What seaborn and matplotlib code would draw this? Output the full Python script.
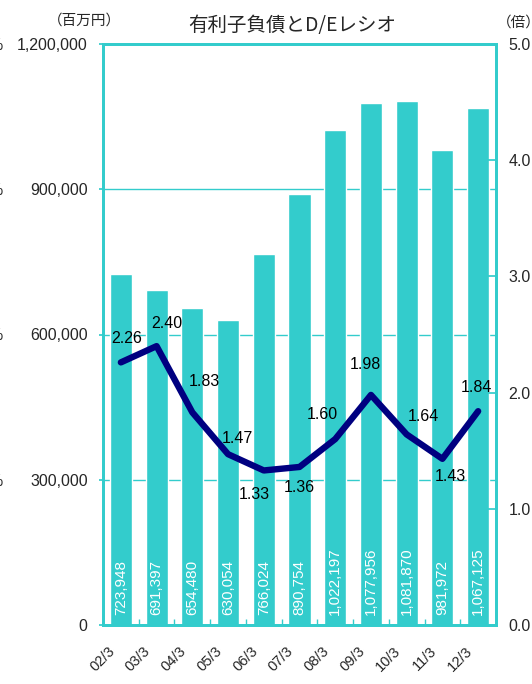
import matplotlib.pyplot as plt
import numpy as np
import pandas as pd
import seaborn as sns

periods = ["02/3", "03/3", "04/3", "05/3", "06/3", "07/3", "08/3", "09/3", "10/3", "11/3", "12/3"]
debt = [723948, 691397, 654480, 630054, 766024, 890754, 1022197, 1077956, 1081870, 981972, 1067125]
de_ratio = [2.26, 2.40, 1.83, 1.47, 1.33, 1.36, 1.60, 1.98, 1.64, 1.43, 1.84]
left_ticks = [0, 300000, 600000, 900000, 1200000]
right_ticks = [0.0, 1.0, 2.0, 3.0, 4.0, 5.0]

# label offsets for the ratio labels (points, relative to the point)
label_offsets = [(4, 17), (7, 16), (9, 22), (7, 11), (-7, -17), (0, -15),
                 (-9, 18), (-4, 22), (12, 13), (6, -13), (-1, 17)]

CYAN = "#33CCCC"
NAVY = "#000080"

sns.set_theme(style="white")
plt.rcParams["font.family"] = ["Liberation Sans", "Noto Sans CJK JP", "DejaVu Sans"]

df = pd.DataFrame({"period": periods, "debt": debt, "de": de_ratio})

fig = plt.figure(figsize=(5.32, 6.84), dpi=100)
ax = fig.add_axes([103 / 532, 59 / 684, 393 / 532, 581 / 684])

sns.barplot(data=df, x="period", y="debt", color=CYAN, saturation=1, width=0.62, ax=ax, zorder=2)
ax.set_ylim(0, 1200000)
ax.set_yticks(left_ticks)
ax.set_yticklabels([f"{v:,}" for v in left_ticks], fontsize=11.5)
ax.yaxis.grid(True, color=CYAN, linewidth=1)
ax.set_axisbelow(True)
ax.set_xlabel("")
ax.set_ylabel("")

for i, v in enumerate(debt):
    ax.annotate(f"{v:,}", xy=(i, 0), xytext=(0, 7), textcoords="offset points",
                rotation=90, ha="center", va="bottom", color="white", fontsize=11, zorder=3)

ax2 = ax.twinx()
sns.pointplot(data=df, x="period", y="de", color=NAVY, markers="", linewidth=4.6,
              errorbar=None, ax=ax2)
for ln in ax2.lines:
    ln.set_solid_joinstyle("round")
    ln.set_solid_capstyle("round")
ax2.set_ylim(0, 5)
ax2.set_yticks(right_ticks)
ax2.set_yticklabels([f"{v:.1f}" for v in right_ticks], fontsize=11.5)
ax2.set_ylabel("")
ax2.set_xlabel("")

for i, (v, (dx, dy)) in enumerate(zip(de_ratio, label_offsets)):
    ax2.annotate(f"{v:.2f}", xy=(i, v), xytext=(dx, dy), textcoords="offset points",
                 ha="center", va="center", color="black", fontsize=11.5)

ax.set_xlim(-0.5, len(periods) - 0.5)
ax.set_xticks(np.arange(len(periods) + 1) - 0.5, minor=True)
ax.set_xticks(np.arange(len(periods)))
ax.set_xticklabels([])
ax.tick_params(axis="x", which="major", length=0)
ax.tick_params(axis="x", which="minor", bottom=True, direction="in", length=4, color=CYAN, width=1)
ax.tick_params(axis="y", left=True, direction="out", length=3, color=CYAN, pad=8)
ax2.tick_params(axis="y", right=True, direction="in", length=6, color=CYAN, pad=9)

# rotated period labels below each bar
for i, p in enumerate(periods):
    ax.annotate(p, xy=(i, 0), xytext=(-6, -17), textcoords="offset points",
                rotation=45, ha="right", va="center", rotation_mode="anchor",
                fontsize=10.5, annotation_clip=False)

for a in (ax, ax2):
    for sp in a.spines.values():
        sp.set_color(CYAN)
        sp.set_linewidth(2)

fig.text(292 / 532, 1 - 25 / 684, "有利子負債とD/Eレシオ", ha="center", va="center",
         fontsize=14, family=["Noto Sans CJK JP"])
fig.text(84 / 532, 1 - 21 / 684, "（百万円）", ha="center", va="center",
         fontsize=10.5, family=["Noto Sans CJK JP"])
fig.text(497 / 532, 1 - 23 / 684, "（倍）", ha="left", va="center",
         fontsize=10.5, family=["Noto Sans CJK JP"])
for v in left_ticks[1:]:
    fig.text(4 / 532, ax.transData.transform((0, v))[1] / 684 - 0.002, "0%", ha="right",
             va="center", fontsize=11.5)

fig.savefig("out.png", dpi=100)
